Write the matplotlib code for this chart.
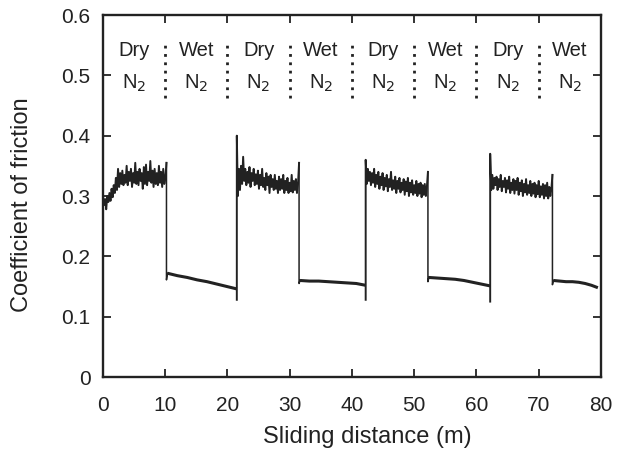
"""Friction coefficient under alternating dry / wet N2 sliding."""

import matplotlib

matplotlib.use("Agg")

import matplotlib.pyplot as plt
import numpy as np

plt.rcParams["font.family"] = ["Liberation Sans", "DejaVu Sans"]

# segment boundaries (m)
seg_edges = [0, 10.2, 21.5, 31.5, 42.2, 52.2, 62.2, 72.2, 79.5]

dry_1 = [0.300, 0.285, 0.295, 0.278, 0.300, 0.290, 0.305, 0.292, 0.312, 0.298,
         0.318, 0.305, 0.330, 0.310, 0.345, 0.315, 0.338, 0.320, 0.342, 0.318,
         0.335, 0.322, 0.350, 0.318, 0.340, 0.325, 0.345, 0.315, 0.338, 0.322,
         0.355, 0.320, 0.340, 0.318, 0.345, 0.325, 0.338, 0.312, 0.348, 0.320,
         0.352, 0.318, 0.340, 0.325, 0.358, 0.322, 0.342, 0.315, 0.345, 0.320,
         0.338, 0.318, 0.350, 0.322, 0.340, 0.315, 0.345, 0.320, 0.330, 0.355]
dry_2 = [0.400, 0.300, 0.345, 0.310, 0.350, 0.320, 0.365, 0.325, 0.345, 0.318,
         0.340, 0.322, 0.348, 0.315, 0.338, 0.325, 0.345, 0.318, 0.336, 0.320,
         0.342, 0.312, 0.335, 0.318, 0.345, 0.315, 0.330, 0.310, 0.338, 0.318,
         0.332, 0.305, 0.335, 0.315, 0.328, 0.310, 0.335, 0.312, 0.325, 0.305,
         0.332, 0.310, 0.328, 0.312, 0.335, 0.305, 0.325, 0.310, 0.330, 0.305,
         0.322, 0.308, 0.335, 0.306, 0.325, 0.310, 0.328, 0.305, 0.320, 0.355]
dry_3 = [0.360, 0.320, 0.345, 0.325, 0.340, 0.318, 0.338, 0.322, 0.345, 0.315,
         0.335, 0.320, 0.340, 0.312, 0.332, 0.318, 0.338, 0.310, 0.330, 0.316,
         0.335, 0.308, 0.328, 0.315, 0.340, 0.310, 0.326, 0.312, 0.332, 0.305,
         0.325, 0.312, 0.330, 0.306, 0.322, 0.310, 0.328, 0.302, 0.324, 0.308,
         0.330, 0.300, 0.322, 0.306, 0.326, 0.302, 0.318, 0.305, 0.325, 0.300,
         0.320, 0.304, 0.322, 0.298, 0.318, 0.302, 0.320, 0.300, 0.315, 0.340]
dry_4 = [0.370, 0.310, 0.335, 0.312, 0.330, 0.318, 0.332, 0.310, 0.328, 0.315,
         0.335, 0.308, 0.325, 0.315, 0.330, 0.306, 0.326, 0.312, 0.332, 0.305,
         0.322, 0.310, 0.328, 0.304, 0.325, 0.310, 0.330, 0.302, 0.322, 0.308,
         0.326, 0.300, 0.320, 0.306, 0.328, 0.302, 0.318, 0.305, 0.325, 0.300,
         0.320, 0.304, 0.322, 0.298, 0.318, 0.303, 0.325, 0.298, 0.316, 0.302,
         0.320, 0.296, 0.318, 0.300, 0.322, 0.296, 0.315, 0.300, 0.312, 0.335]

wet_1 = [0.172, 0.168, 0.165, 0.161, 0.158, 0.154, 0.150, 0.146]
wet_2 = [0.160, 0.159, 0.159, 0.158, 0.157, 0.156, 0.155, 0.152]
wet_3 = [0.165, 0.164, 0.163, 0.162, 0.160, 0.157, 0.154, 0.151]
wet_4 = [0.160, 0.159, 0.158, 0.158, 0.157, 0.155, 0.152, 0.148]

# lowest point of the drop into each wet run, and of the dip before each dry run
wet_hook = [0.161, 0.155, 0.158, 0.153]
dry_dip = [0.128, 0.128, 0.125]

region_labels = ["Dry\nN$_2$", "Wet\nN$_2$"] * 4
x_ticks = [0, 10, 20, 30, 40, 50, 60, 70, 80]
y_ticks = [0, 0.1, 0.2, 0.3, 0.4, 0.5, 0.6]
y_tick_labels = ["0", "0.1", "0.2", "0.3", "0.4", "0.5", "0.6"]

dry_runs = [dry_1, dry_2, dry_3, dry_4]
wet_runs = [wet_1, wet_2, wet_3, wet_4]

fig = plt.figure(figsize=(6.38, 4.55), dpi=100)
ax = fig.add_axes([0.1614, 0.1714, 0.7806, 0.7956])

ink = "#222222"
for k in range(4):
    d0, d1 = seg_edges[2 * k], seg_edges[2 * k + 1]
    w1 = seg_edges[2 * k + 2]

    xs = list(np.linspace(d0, d1, len(dry_runs[k])))
    ys = list(dry_runs[k])
    if k > 0:
        xs = [d0] + xs
        ys = [dry_dip[k - 1]] + ys
    ax.plot(xs, ys, color=ink, lw=1.4)

    wx = [d1, d1] + list(np.linspace(d1 + 0.15, w1, len(wet_runs[k])))
    wy = [ys[-1], wet_hook[k]] + list(wet_runs[k])
    ax.plot(wx[:3], wy[:3], color=ink, lw=1.1)
    ax.plot(wx[2:], wy[2:], color=ink, lw=2.2, solid_capstyle="butt")

for i, label in enumerate(region_labels):
    ax.text(5 + 10 * i, 0.513, label, ha="center", va="center",
            fontsize=14.5, color=ink, linespacing=1.8)
for xv in x_ticks[1:-1]:
    ax.plot([xv, xv], [0.462, 0.552], color=ink, lw=2.0,
            linestyle=(0, (1, 2.0)))

ax.set_xlim(0, 80)
ax.set_ylim(0, 0.6)
ax.set_xticks(x_ticks)
ax.set_yticks(y_ticks)
ax.set_yticklabels(y_tick_labels)
ax.tick_params(direction="in", length=6, width=1.3, top=True, right=True,
               labelsize=15, colors=ink)
ax.tick_params(axis="x", pad=14)
ax.tick_params(axis="y", pad=9)
for spine in ax.spines.values():
    spine.set_linewidth(1.7)
    spine.set_color(ink)

ax.set_xlabel("Sliding distance (m)", fontsize=17, color=ink)
ax.set_ylabel("Coefficient of friction", fontsize=17, color=ink)
ax.xaxis.set_label_coords(0.53, -0.166)
ax.xaxis.label.set_va("center")
ax.yaxis.set_label_coords(-0.163, 0.475)
ax.yaxis.label.set_va("center")

fig.savefig("out.png", dpi=100)
